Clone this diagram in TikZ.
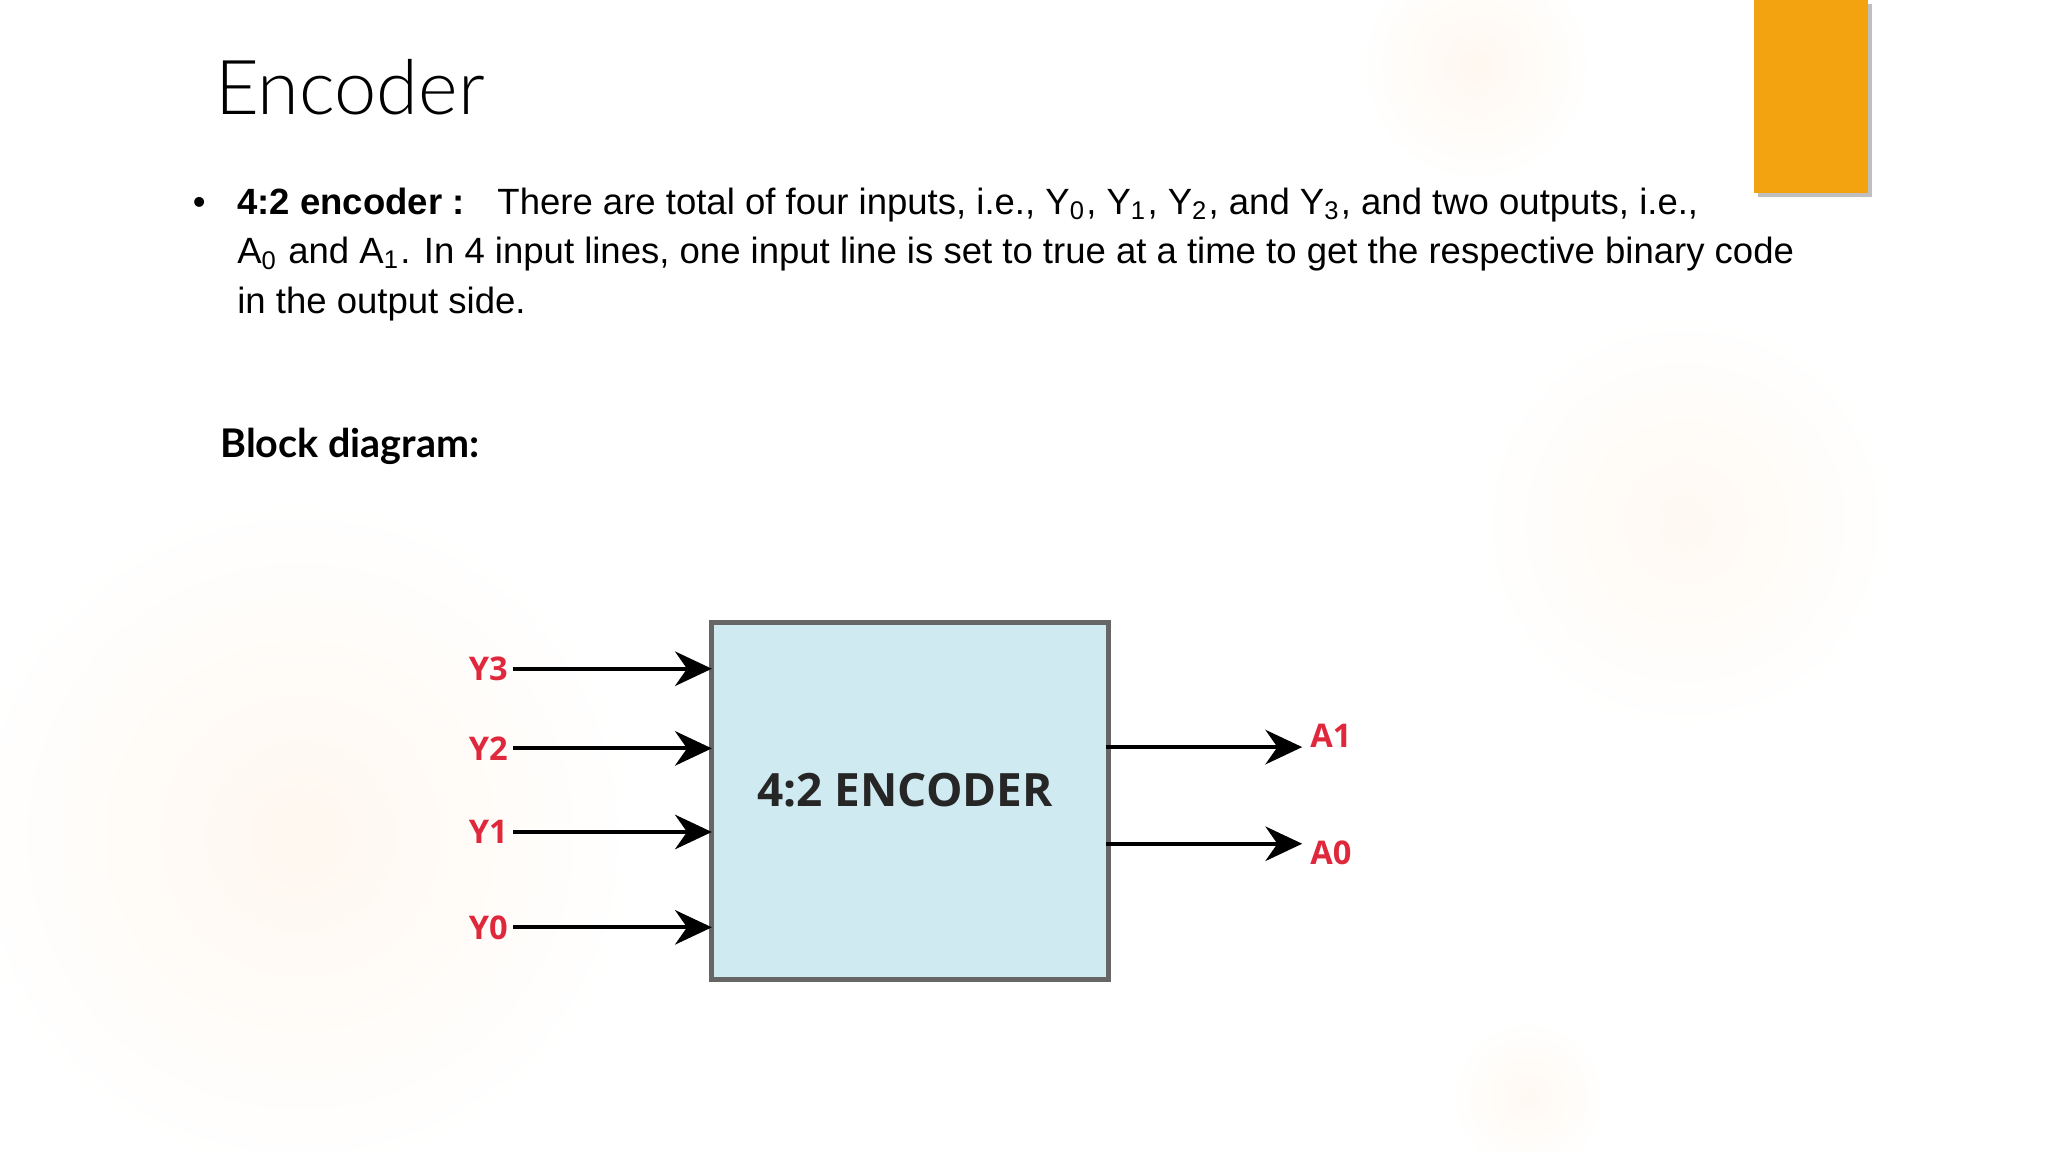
\documentclass[tikz,border=0pt]{standalone}
\usetikzlibrary{arrows.meta}
\usepackage{fontspec}
\setmainfont{Liberation Sans}
\newfontfamily\titlefont{Lato Light}
\newfontfamily\latob{Lato Bold}
\newfontfamily\opens{Open Sans}
\definecolor{lbl}{HTML}{E0283C}
\definecolor{boxfill}{HTML}{CFEAF1}
\definecolor{orng}{HTML}{F2A30F}
\newcommand{\sbs}[1]{\textsubscript{#1}}
\begin{document}
\begin{tikzpicture}[x=0.01cm,y=-0.01cm,
  body/.style={anchor=base west,inner sep=0,font=\fontsize{7.95}{10}\selectfont},
  lab/.style={text=lbl,font=\opens\fontsize{7.1}{9}\selectfont,inner sep=1pt},
  arr/.style={-{Stealth[length=8pt,width=7.5pt]},line width=0.9pt}]
\useasboundingbox (0,0) rectangle (1568,882);
\fill[white] (0,0) rectangle (1568,882);
\shade[inner color=orange!6,outer color=white] (230,640) circle (260);
\shade[inner color=orange!5,outer color=white] (1290,400) circle (160);
\shade[inner color=orange!6,outer color=white] (1130,50) circle (90);
\shade[inner color=orange!5,outer color=white] (1170,840) circle (60);
\fill[black!25] (1346,3) rectangle (1433,151);
\fill[orng] (1343,0) rectangle (1430,148);
\node[anchor=base west,inner sep=0,font=\titlefont\fontsize{16.5}{20}\selectfont] (title) at (164,88) {Encoder};
\node[body] (bul) at (147,164) {\textbullet};
\node[body] (l1) at (181,164) {\textbf{4:2 encoder :}\hspace{0.9em}There are total of four inputs, i.e., Y\sbs{0}, Y\sbs{1}, Y\sbs{2}, and Y\sbs{3}, and two outputs, i.e.,};
\node[body] (l2) at (181,202) {A\sbs{0} and A\sbs{1}. In 4 input lines, one input line is set to true at a time to get the respective binary code};
\node[body] (l3) at (181,240) {in the output side.};
\node[anchor=base west,inner sep=0,font=\latob\fontsize{8.6}{10}\selectfont] (bd) at (168,350) {Block diagram:};
\node[draw=black!60,line width=1pt,fill=boxfill,minimum width=304*0.01cm,minimum height=273*0.01cm,anchor=north west,inner sep=0] (enc) at (543,475) {};
\node[font=\opens\fontsize{10}{12}\selectfont,text=black!85] (encl) at (693,605) {\textbf{4:2 ENCODER}};
\foreach \n/\y in {3/512,2/573,1/637,0/710}{
  \node[lab,anchor=east] (y\n) at (393,\y) {\textbf{Y\n}};
  \coordinate (e\n) at (545,\y);
  \draw[arr] (y\n.east) -- (e\n);
}
\coordinate (s1) at (847,572); \coordinate (t1) at (997,572);
\coordinate (s0) at (847,646); \coordinate (t0) at (997,646);
\draw[arr] (s1) -- (t1);
\draw[arr] (s0) -- (t0);
\node[lab,anchor=west] (a1) at (999,563) {\textbf{A1}};
\node[lab,anchor=west] (a0) at (999,653) {\textbf{A0}};
\end{tikzpicture}
\end{document}
